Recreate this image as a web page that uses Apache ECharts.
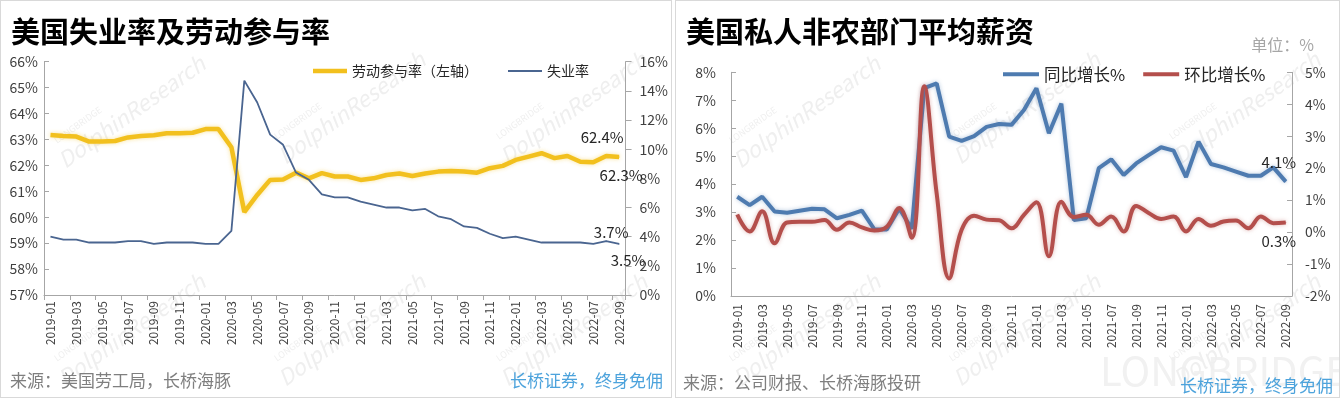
<!DOCTYPE html>
<html>
<head>
<meta charset="utf-8">
<script src="https://cdn.jsdelivr.net/npm/echarts@6/dist/echarts.min.js"></script>
<style>
  html, body { margin: 0; padding: 0; background: #fff; }
  .panel { position: absolute; top: 0; height: 398px; box-sizing: border-box; border: 1px solid #d9d9d9; }
  #chart-left { left: 0; width: 672px; }
  #chart-right { left: 675px; width: 665px; }
</style>
</head>
<body>
<div id="chart-left" class="panel"></div>
<div id="chart-right" class="panel"></div>
<script>
const months = [
    '2019-01', '2019-02', '2019-03', '2019-04', '2019-05', '2019-06', '2019-07', '2019-08', '2019-09', '2019-10', '2019-11', '2019-12',
    '2020-01', '2020-02', '2020-03', '2020-04', '2020-05', '2020-06', '2020-07', '2020-08', '2020-09', '2020-10', '2020-11', '2020-12',
    '2021-01', '2021-02', '2021-03', '2021-04', '2021-05', '2021-06', '2021-07', '2021-08', '2021-09', '2021-10', '2021-11', '2021-12',
    '2022-01', '2022-02', '2022-03', '2022-04', '2022-05', '2022-06', '2022-07', '2022-08', '2022-09'
];

// 劳动参与率 (%)
const lfpr = [
    63.17, 63.13, 63.11, 62.92, 62.92, 62.94, 63.08, 63.13, 63.16, 63.24, 63.24, 63.26,
    63.40, 63.40, 62.70, 60.20, 60.86, 61.44, 61.46, 61.72, 61.50, 61.70, 61.57, 61.57,
    61.44, 61.50, 61.63, 61.69, 61.59, 61.69, 61.76, 61.78, 61.76, 61.72, 61.89, 61.98,
    62.21, 62.34, 62.47, 62.28, 62.36, 62.14, 62.12, 62.36, 62.32
];

// 失业率 (%)
const unemp = [
    4.0, 3.8, 3.8, 3.6, 3.6, 3.6, 3.7, 3.7, 3.5, 3.6, 3.6, 3.6,
    3.5, 3.5, 4.4, 14.7, 13.2, 11.0, 10.3, 8.4, 7.9, 6.9, 6.7, 6.7,
    6.4, 6.2, 6.0, 6.0, 5.8, 5.9, 5.4, 5.2, 4.7, 4.6, 4.2, 3.9,
    4.0, 3.8, 3.6, 3.6, 3.6, 3.6, 3.5, 3.7, 3.5
];

// 平均时薪 同比 (%)
const wageYoy = [
    3.55, 3.25, 3.55, 3.02, 2.98, 3.05, 3.12, 3.10, 2.78, 2.90, 3.05, 2.38,
    2.38, 3.13, 2.40, 7.43, 7.60, 5.70, 5.55, 5.72, 6.05, 6.15, 6.12, 6.65,
    7.43, 5.82, 6.88, 2.72, 2.78, 4.57, 4.89, 4.33, 4.74, 5.04, 5.32, 5.20,
    4.25, 5.52, 4.72, 4.60, 4.45, 4.30, 4.30, 4.60, 4.09
];

// 平均时薪 环比 (%)
const wageMom = [
    0.55, 0.02, 0.65, -0.35, 0.30, 0.32, 0.32, 0.38, 0.07, 0.30, 0.15, 0.05,
    0.17, 0.75, -0.18, 4.56, 1.20, -1.45, 0.07, 0.51, 0.39, 0.37, 0.12, 0.54,
    0.93, -0.76, 0.95, 0.47, 0.54, 0.23, 0.49, 0.02, 0.82, 0.60, 0.41, 0.49,
    0.02, 0.41, 0.20, 0.33, 0.36, 0.12, 0.49, 0.28, 0.30
];

const FONT = '"Noto Sans CJK SC", "Noto Sans", sans-serif';
const pct = v => v + '%';

// 末尾两个点加数据标签（单点给一个很小的 symbol，标签才会画出来）
function withEndLabels(values, lastTwo) {
    const n = values.length;
    return values.map((v, i) => {
        const k = i - (n - 2);
        if (k >= 0 && lastTwo[k]) {
            return { value: v, symbol: 'circle', symbolSize: 1, label: Object.assign({ show: true }, lastTwo[k]) };
        }
        return v;
    });
}

const endLabelStyle = {
    fontSize: 15, color: '#262626', fontFamily: FONT,
    formatter: p => p.value.toFixed(1) + '%'
};

// 图例只画一段线，粗细跟折线一致
const lineIcon = (w, h) => 'path://M0 0H' + w + 'V' + h + 'H0Z';

function watermarks(list) {
    const items = [];
    list.forEach(([x, y]) => {
        items.push({
            type: 'group', x: x, y: y, rotation: 0.62, z: -10, silent: true,
            children: [
                { type: 'text', x: -70, y: -20, style: { text: 'LONGBRIDGE', fontSize: 9, fill: '#efefef', fontFamily: FONT } },
                { type: 'text', x: -78, y: -6, style: { text: 'DolphinResearch', fontSize: 22, fontStyle: 'italic', fill: '#efefef', fontFamily: FONT } }
            ]
        });
    });
    return items;
}

const xAxisBase = {
    type: 'category',
    data: months,
    boundaryGap: true,
    axisLine: { lineStyle: { color: '#a6a6a6' } },
    axisLabel: { interval: 1, rotate: 90, fontSize: 12, color: '#404040', margin: 6, fontFamily: FONT }
};

function yAxisBase(extra) {
    return Object.assign({
        type: 'value',
        splitLine: { show: false },
        axisLine: { show: true, lineStyle: { color: '#a6a6a6' } },
        axisTick: { show: true, inside: true, length: 5, lineStyle: { color: '#a6a6a6' } },
        axisLabel: { formatter: pct, fontSize: 14, color: '#404040', fontFamily: FONT }
    }, extra);
}

// ---------- 左图 ----------
const leftChart = echarts.init(document.getElementById('chart-left'));
leftChart.setOption({
    animation: false,
    title: {
        text: '美国失业率及劳动参与率', left: 5, top: 11,
        textStyle: { fontSize: 29, fontWeight: 'bold', color: '#000', fontFamily: FONT }
    },
    legend: {
        left: 312, top: 63, padding: 0, itemWidth: 34, itemHeight: 10, itemGap: 30,
        textStyle: { fontSize: 14, color: '#262626', fontFamily: FONT },
        data: [
            { name: '劳动参与率（左轴）', icon: lineIcon(34, 4.5) },
            { name: '失业率', icon: lineIcon(34, 1.8) }
        ]
    },
    grid: { left: 43, top: 60.7, width: 583, height: 233.3 },
    xAxis: Object.assign({}, xAxisBase, {
        axisTick: { show: true, interval: 1, length: 5, lineStyle: { color: '#a6a6a6' } }
    }),
    yAxis: [
        yAxisBase({ min: 57, max: 66, interval: 1, axisLabel: { formatter: pct, fontSize: 14, color: '#404040', fontFamily: FONT, margin: 6 } }),
        yAxisBase({
            min: 0, max: 16, interval: 2, position: 'right',
            axisTick: { show: true, inside: false, length: 6, lineStyle: { color: '#a6a6a6' } },
            axisLabel: { formatter: pct, fontSize: 14, color: '#404040', fontFamily: FONT, margin: 14 }
        })
    ],
    graphic: watermarks([[120, 112], [340, 108], [562, 108], [120, 330], [340, 330], [562, 330]]).concat([
        { type: 'text', left: 9, top: 371, style: { text: '来源：美国劳工局，长桥海豚', fontSize: 17, fill: '#7f7f7f', fontFamily: FONT } },
        { type: 'text', right: 8, top: 371, style: { text: '长桥证券，终身免佣', fontSize: 17, fill: '#4da3dc', fontFamily: FONT } }
    ]),
    series: [
        {
            name: '劳动参与率（左轴）', type: 'line', yAxisIndex: 0, symbol: 'none',
            lineStyle: { width: 4.5, color: '#f2c01e', shadowColor: 'rgba(242,192,30,0.45)', shadowBlur: 4 },
            itemStyle: { color: '#f2c01e' },
            data: withEndLabels(lfpr, [
                Object.assign({ position: 'top', distance: 11, offset: [-4, 0] }, endLabelStyle),
                Object.assign({ position: 'bottom', distance: 10, offset: [2, 0] }, endLabelStyle)
            ])
        },
        {
            name: '失业率', type: 'line', yAxisIndex: 1, symbol: 'none',
            lineStyle: { width: 1.8, color: '#4a6590' },
            itemStyle: { color: '#4a6590' },
            data: withEndLabels(unemp, [
                Object.assign({ position: 'top', distance: 1, offset: [5, 0] }, endLabelStyle),
                Object.assign({ position: 'bottom', distance: 8, offset: [9, 0] }, endLabelStyle)
            ])
        }
    ]
});

// ---------- 右图 ----------
const rightChart = echarts.init(document.getElementById('chart-right'));
rightChart.setOption({
    animation: false,
    title: [
        {
            text: '美国私人非农部门平均薪资', left: 5, top: 11,
            textStyle: { fontSize: 29, fontWeight: 'bold', color: '#000', fontFamily: FONT }
        },
        {
            text: '单位：%', right: 20, top: 31,
            textStyle: { fontSize: 16, fontWeight: 'normal', color: '#a6a6a6', fontFamily: FONT }
        }
    ],
    legend: {
        left: 327, top: 65, padding: 0, itemWidth: 36, itemHeight: 10, itemGap: 18,
        textStyle: { fontSize: 16.5, color: '#262626', fontFamily: FONT },
        data: [
            { name: '同比增长%', icon: lineIcon(36, 4) },
            { name: '环比增长%', icon: lineIcon(36, 4) }
        ]
    },
    grid: { left: 55, top: 71.3, width: 561, height: 223.7 },
    xAxis: Object.assign({}, xAxisBase, {
        axisTick: { show: false },
        axisLabel: Object.assign({}, xAxisBase.axisLabel, { margin: 8 })
    }),
    yAxis: [
        yAxisBase({ min: 0, max: 8, interval: 1, axisLabel: { formatter: pct, fontSize: 14, color: '#404040', fontFamily: FONT, margin: 15 } }),
        yAxisBase({
            min: -2, max: 5, interval: 1, position: 'right',
            axisLabel: { formatter: pct, fontSize: 14, color: '#404040', fontFamily: FONT, margin: 13 }
        })
    ],
    graphic: watermarks([[120, 112], [340, 108], [560, 108], [120, 330], [340, 330], [560, 330]]).concat([
        { type: 'text', left: 424, top: 350, z: -5, silent: true, style: { text: 'LONGBRIDGE', fontSize: 40, fill: '#f1f1f1', fontFamily: FONT } },
        { type: 'text', left: 7, top: 373, style: { text: '来源：公司财报、长桥海豚投研', fontSize: 17, fill: '#7f7f7f', fontFamily: FONT } },
        { type: 'text', right: 6, top: 376, style: { text: '长桥证券，终身免佣', fontSize: 17, fill: '#4da3dc', fontFamily: FONT } }
    ]),
    series: [
        {
            name: '同比增长%', type: 'line', yAxisIndex: 0, symbol: 'none',
            lineStyle: { width: 4, color: '#4e7bb0', shadowColor: 'rgba(78,123,176,0.4)', shadowBlur: 4 },
            itemStyle: { color: '#4e7bb0' },
            data: withEndLabels(wageYoy, [
                null,
                Object.assign({ position: 'top', distance: 11, offset: [-7, 0] }, endLabelStyle)
            ])
        },
        {
            name: '环比增长%', type: 'line', yAxisIndex: 1, symbol: 'none', smooth: 0.4,
            lineStyle: { width: 4, color: '#b44f4c', shadowColor: 'rgba(180,79,76,0.4)', shadowBlur: 4 },
            itemStyle: { color: '#b44f4c' },
            data: withEndLabels(wageMom, [
                null,
                Object.assign({ position: 'bottom', distance: 11, offset: [-7, 0] }, endLabelStyle)
            ])
        }
    ]
});

window.addEventListener('resize', () => { leftChart.resize(); rightChart.resize(); });
</script>
</body>
</html>
